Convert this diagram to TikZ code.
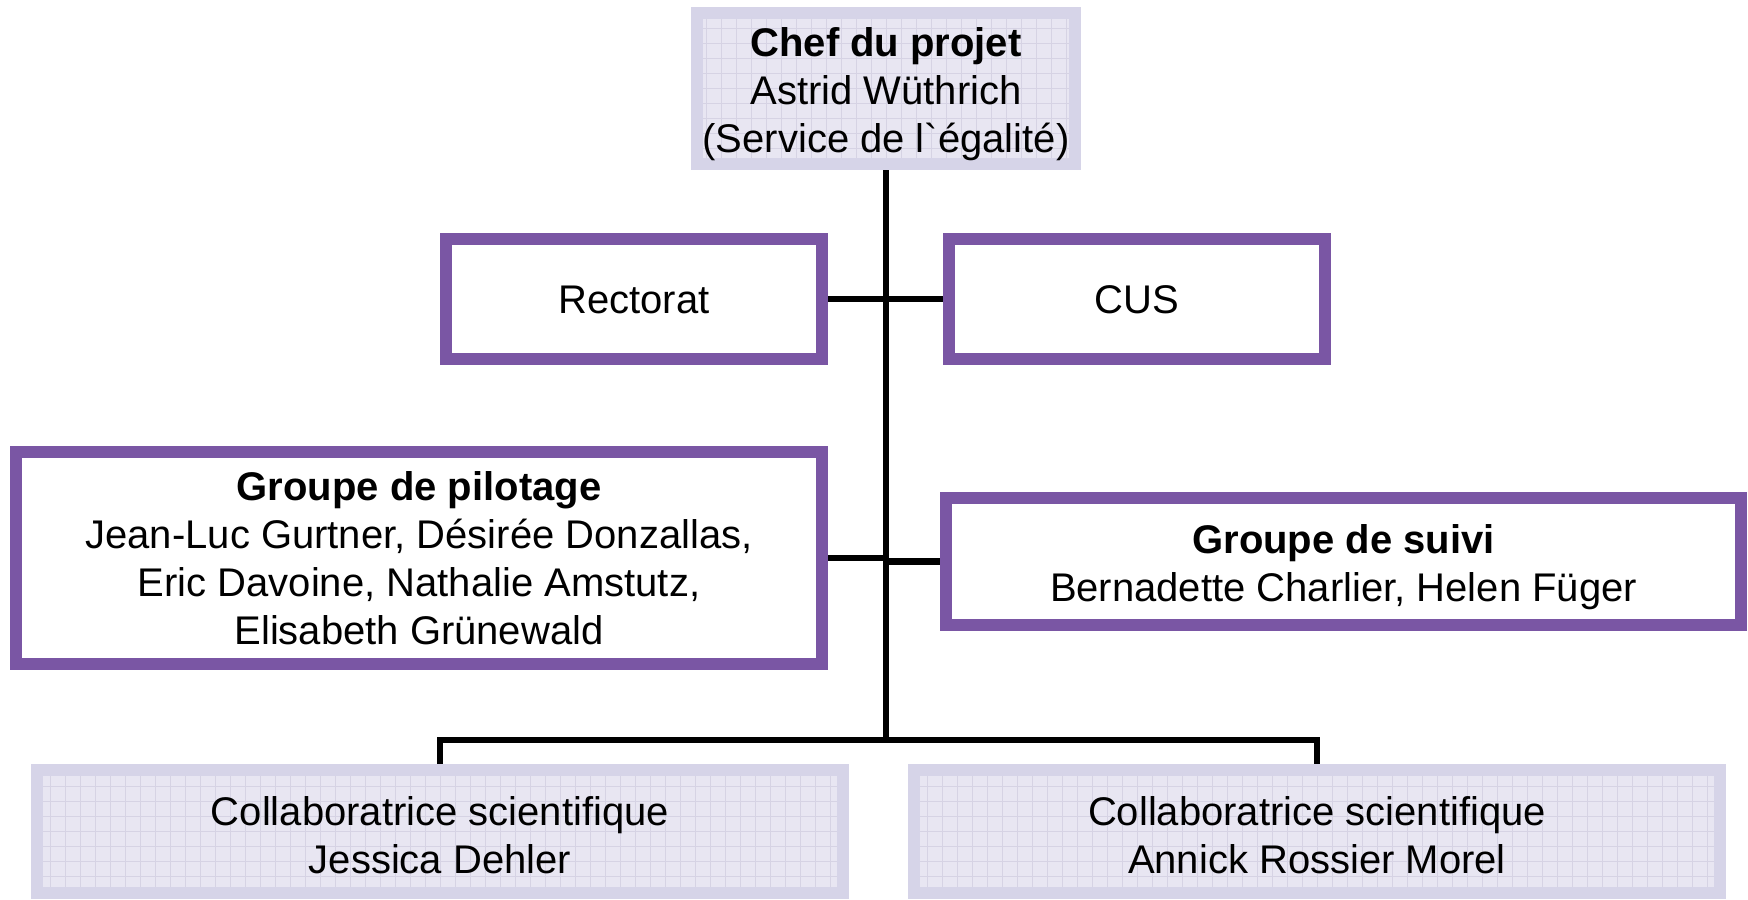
\documentclass[tikz,border=0pt]{standalone}
\usepackage{fontspec}
\setmainfont{Liberation Sans}[Ligatures=TeXOff]
\usetikzlibrary{backgrounds}
\definecolor{purp}{RGB}{122,86,164}
\definecolor{lightborder}{RGB}{214,212,232}
\definecolor{lightfill}{RGB}{232,230,242}
\definecolor{gridc}{RGB}{214,211,228}
\tikzset{
  x=0.5pt, y=-0.5pt,
  txt/.style={font=\fontsize{20pt}{24pt}\selectfont, align=center, inner sep=0pt, text=black},
  purplebox/.style={txt, draw=purp, line width=6pt, fill=white},
  lightbox/.style={txt, draw=lightborder, line width=6pt, fill=lightfill,
    path picture={\draw[gridc, line width=0.5pt, step=7.5pt]
      (path picture bounding box.south west) grid (path picture bounding box.north east);}},
  conn/.style={draw=black, line width=3.4pt, line join=miter}
}
\begin{document}
\begin{tikzpicture}
\useasboundingbox (0,0) rectangle (1748,899);
\node[lightbox, minimum width=189pt, minimum height=75.5pt,
  label={[txt, yshift=-2.75pt]center:{\textbf{Chef du projet}\\Astrid Wüthrich\\(Service de l`égalité)}}]
  (chef) at (886,88.5) {};
\node[purplebox, minimum width=188pt, minimum height=60pt,
  label={[txt, yshift=-0.5pt]center:Rectorat}] (rect) at (634,299) {};
\node[purplebox, minimum width=188pt, minimum height=60pt,
  label={[txt, yshift=-0.5pt]center:CUS}] (cus) at (1137,299) {};
\node[purplebox, minimum width=403pt, minimum height=106pt] (pilot) at (419,558)
  {\textbf{Groupe de pilotage}\\Jean-Luc Gurtner, Désirée Donzallas,\\Eric Davoine, Nathalie Amstutz,\\Elisabeth Grünewald};
\node[purplebox, minimum width=397.5pt, minimum height=63.5pt,
  label={[txt, yshift=-2.75pt]center:{\textbf{Groupe de suivi}\\Bernadette Charlier, Helen Füger}}]
  (suivi) at (1343.5,561.5) {};
\node[lightbox, minimum width=403pt, minimum height=61.5pt,
  label={[txt, yshift=-1.7pt]center:{Collaboratrice scientifique\\Jessica Dehler}}]
  (colab1) at (440,831.5) {};
\node[lightbox, minimum width=403pt, minimum height=61.5pt,
  label={[txt, yshift=-1.7pt]center:{Collaboratrice scientifique\\Annick Rossier Morel}}]
  (colab2) at (1317,831.5) {};
\coordinate (bus) at (886,740);
\begin{scope}[on background layer]
  \draw[conn] (chef.south) -- (bus);
  \draw[conn] (rect.east) -- (cus.west);
  \draw[conn] (pilot.east) -- (pilot.east -| chef.south);
  \draw[conn] (suivi.west) -- (suivi.west -| chef.south);
  \draw[conn] (colab1.north) |- (bus) -| (colab2.north);
\end{scope}
\end{tikzpicture}
\end{document}
